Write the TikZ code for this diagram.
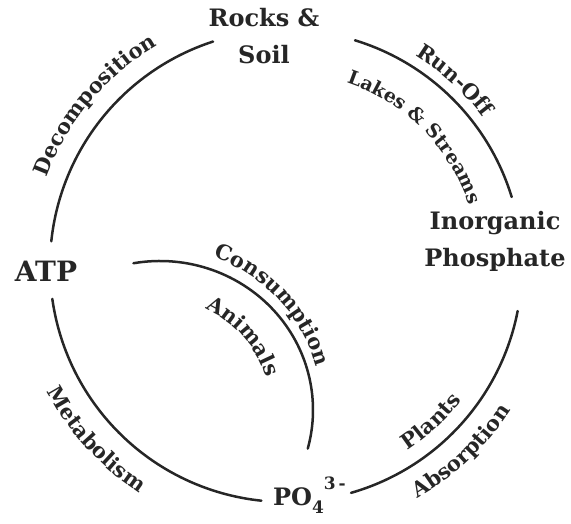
\documentclass[tikz,border=0pt]{standalone}
\usepackage{fontspec}
\setmainfont{DejaVu Serif}
\usetikzlibrary{calc}
\newcommand\arclbl{\bfseries\fontsize{21}{21}\selectfont}
\newcommand\arclblsm{\bfseries\fontsize{19}{19}\selectfont}
\newlength\arcw
\newlength\chw
\newsavebox\arcbox
% measure one character in the given font, outside the picture's null font
\newcommand\measurechar[2]{%
  \pgfinterruptpicture\global\setbox\arcbox\hbox{#1#2}\endpgfinterruptpicture
  \global\chw=\wd\arcbox}
% \arctext{centre}{baseline radius}{middle angle}{1 = counter-clockwise, -1 = clockwise}{font}{characters}
\newcommand\arctext[6]{%
  \global\arcw=0pt
  \foreach \ch in {#6}{\measurechar{#5}{\ch}\global\advance\arcw by \chw}%
  \pgfmathsetmacro\arcstart{#3 - #4*(\arcw/2)/(#2)*180/pi}%
  \xdef\curang{\arcstart}%
  \foreach \ch in {#6}{%
    \measurechar{#5}{\ch}%
    \pgfmathsetmacro\halfang{#4*(\chw/2)/(#2)*180/pi}%
    \pgfmathsetmacro\here{\curang+\halfang}%
    \pgfmathsetmacro\tilt{\here+90*#4}%
    \node[rotate=\tilt, anchor=base, inner sep=0pt, text=black!85] at ($(#1)+(\here:#2pt)$) {#5\ch};
    \pgfmathsetmacro\nextang{\curang+2*\halfang}%
    \xdef\curang{\nextang}%
  }}
\begin{document}
\begin{tikzpicture}[x=1pt,y=1pt,
  cyc/.style={line width=2.5pt, draw=black!85, line cap=round},
  stage/.style={font=\bfseries\fontsize{24}{37}\selectfont, align=center, text=black!85, inner sep=0pt},
]
\useasboundingbox (0,0) rectangle (571,524);
\coordinate (hub) at (286,258);
\coordinate (inner) at (160,114);

% stages of the cycle
\node[stage] (rocks) at (264,488) {Rocks \&\\Soil};
\node[stage] (inorg) at (495,283) {Inorganic\\Phosphate};
\node[stage, font=\bfseries\fontsize{28}{28}\selectfont] (atp) at (46,253) {ATP};
\node[stage, anchor=base west] (po4) at (273,18)
  {PO\raisebox{-0.3em}{\fontsize{17}{17}\selectfont 4}\raisebox{0.7em}{\fontsize{17}{17}\selectfont 3\,-}};

% outer ring, broken at each stage
\draw[cyc] ($(hub)+(108:236pt)$) arc[start angle=108, end angle=174, radius=236pt];
\draw[cyc] ($(hub)+(188:236pt)$) arc[start angle=188, end angle=264, radius=236pt];
\draw[cyc] ($(hub)+(286:236pt)$) arc[start angle=286, end angle=349, radius=236pt];
\draw[cyc] ($(hub)+(17:236pt)$) arc[start angle=17, end angle=73, radius=236pt];

% inner shortcut from ATP to phosphate
\draw[cyc] ($(inner)+({153*cos(100)},{149*sin(100)})$) arc[start angle=100, end angle=-15, x radius=153pt, y radius=149pt];

% process labels following the arcs
\arctext{hub}{255}{140}{-1}{\arclbl}{D,e,c,o,m,p,o,s,i,t,i,o,n}
\arctext{hub}{247}{47.7}{-1}{\arclbl}{R,u,n,-,O,f,f}
\arctext{hub}{193}{45}{-1}{\arclblsm}{L,a,k,e,s,~,\&,~,S,t,r,e,a,m,s}
\arctext{hub}{221}{313}{1}{\arclbl}{P,l,a,n,t,s}
\arctext{hub}{267}{313.4}{1}{\arclbl}{A,b,s,o,r,p,t,i,o,n}
\arctext{hub}{270}{222.4}{1}{\arclbl}{M,e,t,a,b,o,l,i,s,m}
\arctext{inner}{162}{43}{-1}{\arclbl}{C,o,n,s,u,m,p,t,i,o,n}
\arctext{inner}{111}{41.5}{-1}{\arclbl}{A,n,i,m,a,l,s}
\end{tikzpicture}
\end{document}
